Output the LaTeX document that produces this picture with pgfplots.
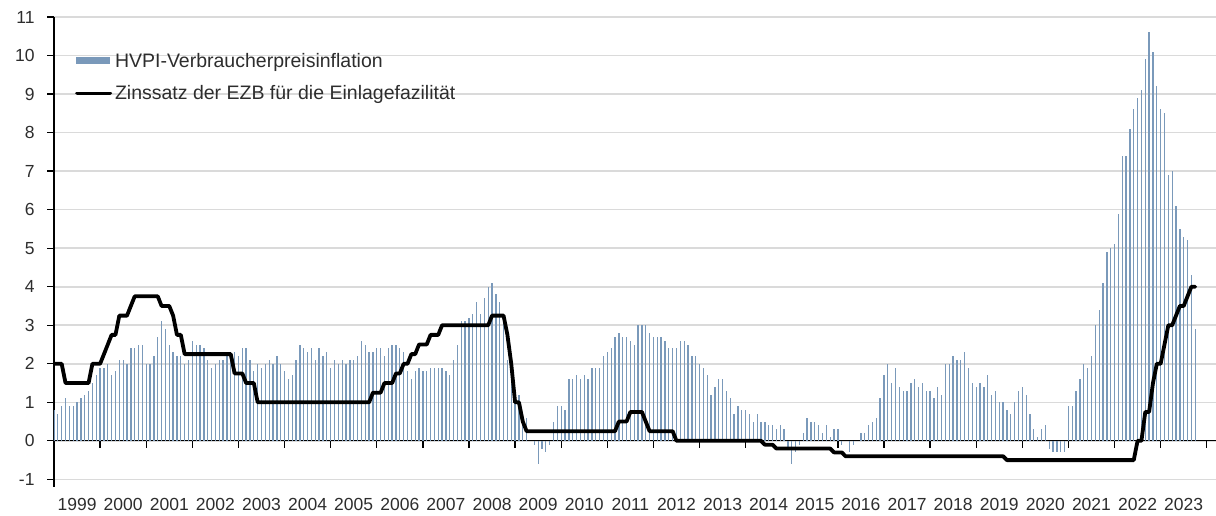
\documentclass[border=0pt]{standalone}
\usepackage{fontspec}
\setmainfont{Liberation Sans}
\usepackage{pgfplots}
\pgfplotsset{compat=1.18}
\usepackage{pgfplotstable}

\definecolor{hvpiblue}{RGB}{122,153,186}
\definecolor{gridgray}{RGB}{218,218,218}
\definecolor{txt}{RGB}{45,45,45}

% HVPI inflation, monthly, in percent
\pgfplotstableread[row sep=\\]{
year month value \\
1999 1 0.8 \\ 1999 2 0.7 \\ 1999 3 0.9 \\ 1999 4 1.1 \\ 1999 5 0.9 \\ 1999 6 0.9 \\ 1999 7 1.0 \\ 1999 8 1.1 \\ 1999 9 1.2 \\ 1999 10 1.3 \\ 1999 11 1.5 \\ 1999 12 1.7 \\
2000 1 1.9 \\ 2000 2 1.9 \\ 2000 3 2.0 \\ 2000 4 1.7 \\ 2000 5 1.8 \\ 2000 6 2.1 \\ 2000 7 2.1 \\ 2000 8 2.0 \\ 2000 9 2.4 \\ 2000 10 2.4 \\ 2000 11 2.5 \\ 2000 12 2.5 \\
2001 1 2.0 \\ 2001 2 2.0 \\ 2001 3 2.2 \\ 2001 4 2.7 \\ 2001 5 3.1 \\ 2001 6 2.9 \\ 2001 7 2.5 \\ 2001 8 2.3 \\ 2001 9 2.2 \\ 2001 10 2.2 \\ 2001 11 2.0 \\ 2001 12 2.1 \\
2002 1 2.6 \\ 2002 2 2.5 \\ 2002 3 2.5 \\ 2002 4 2.4 \\ 2002 5 2.1 \\ 2002 6 1.9 \\ 2002 7 2.0 \\ 2002 8 2.1 \\ 2002 9 2.1 \\ 2002 10 2.3 \\ 2002 11 2.3 \\ 2002 12 2.3 \\
2003 1 2.2 \\ 2003 2 2.4 \\ 2003 3 2.4 \\ 2003 4 2.1 \\ 2003 5 1.8 \\ 2003 6 2.0 \\ 2003 7 1.9 \\ 2003 8 2.0 \\ 2003 9 2.1 \\ 2003 10 2.0 \\ 2003 11 2.2 \\ 2003 12 2.0 \\
2004 1 1.8 \\ 2004 2 1.6 \\ 2004 3 1.7 \\ 2004 4 2.1 \\ 2004 5 2.5 \\ 2004 6 2.4 \\ 2004 7 2.3 \\ 2004 8 2.4 \\ 2004 9 2.1 \\ 2004 10 2.4 \\ 2004 11 2.2 \\ 2004 12 2.3 \\
2005 1 1.9 \\ 2005 2 2.1 \\ 2005 3 2.0 \\ 2005 4 2.1 \\ 2005 5 2.0 \\ 2005 6 2.1 \\ 2005 7 2.1 \\ 2005 8 2.2 \\ 2005 9 2.6 \\ 2005 10 2.5 \\ 2005 11 2.3 \\ 2005 12 2.3 \\
2006 1 2.4 \\ 2006 2 2.4 \\ 2006 3 2.2 \\ 2006 4 2.4 \\ 2006 5 2.5 \\ 2006 6 2.5 \\ 2006 7 2.4 \\ 2006 8 2.3 \\ 2006 9 1.8 \\ 2006 10 1.6 \\ 2006 11 1.8 \\ 2006 12 1.9 \\
2007 1 1.8 \\ 2007 2 1.8 \\ 2007 3 1.9 \\ 2007 4 1.9 \\ 2007 5 1.9 \\ 2007 6 1.9 \\ 2007 7 1.8 \\ 2007 8 1.7 \\ 2007 9 2.1 \\ 2007 10 2.5 \\ 2007 11 3.1 \\ 2007 12 3.1 \\
2008 1 3.2 \\ 2008 2 3.3 \\ 2008 3 3.6 \\ 2008 4 3.3 \\ 2008 5 3.7 \\ 2008 6 4.0 \\ 2008 7 4.1 \\ 2008 8 3.8 \\ 2008 9 3.6 \\ 2008 10 3.2 \\ 2008 11 2.1 \\ 2008 12 1.6 \\
2009 1 1.1 \\ 2009 2 1.2 \\ 2009 3 0.6 \\ 2009 4 0.6 \\ 2009 5 0.0 \\ 2009 6 -0.1 \\ 2009 7 -0.6 \\ 2009 8 -0.2 \\ 2009 9 -0.3 \\ 2009 10 -0.1 \\ 2009 11 0.5 \\ 2009 12 0.9 \\
2010 1 0.9 \\ 2010 2 0.8 \\ 2010 3 1.6 \\ 2010 4 1.6 \\ 2010 5 1.7 \\ 2010 6 1.6 \\ 2010 7 1.7 \\ 2010 8 1.6 \\ 2010 9 1.9 \\ 2010 10 1.9 \\ 2010 11 1.9 \\ 2010 12 2.2 \\
2011 1 2.3 \\ 2011 2 2.4 \\ 2011 3 2.7 \\ 2011 4 2.8 \\ 2011 5 2.7 \\ 2011 6 2.7 \\ 2011 7 2.6 \\ 2011 8 2.5 \\ 2011 9 3.0 \\ 2011 10 3.0 \\ 2011 11 3.0 \\ 2011 12 2.8 \\
2012 1 2.7 \\ 2012 2 2.7 \\ 2012 3 2.7 \\ 2012 4 2.6 \\ 2012 5 2.4 \\ 2012 6 2.4 \\ 2012 7 2.4 \\ 2012 8 2.6 \\ 2012 9 2.6 \\ 2012 10 2.5 \\ 2012 11 2.2 \\ 2012 12 2.2 \\
2013 1 2.0 \\ 2013 2 1.9 \\ 2013 3 1.7 \\ 2013 4 1.2 \\ 2013 5 1.4 \\ 2013 6 1.6 \\ 2013 7 1.6 \\ 2013 8 1.3 \\ 2013 9 1.1 \\ 2013 10 0.7 \\ 2013 11 0.9 \\ 2013 12 0.8 \\
2014 1 0.8 \\ 2014 2 0.7 \\ 2014 3 0.5 \\ 2014 4 0.7 \\ 2014 5 0.5 \\ 2014 6 0.5 \\ 2014 7 0.4 \\ 2014 8 0.4 \\ 2014 9 0.3 \\ 2014 10 0.4 \\ 2014 11 0.3 \\ 2014 12 -0.2 \\
2015 1 -0.6 \\ 2015 2 -0.3 \\ 2015 3 -0.1 \\ 2015 4 0.2 \\ 2015 5 0.6 \\ 2015 6 0.5 \\ 2015 7 0.5 \\ 2015 8 0.4 \\ 2015 9 0.2 \\ 2015 10 0.4 \\ 2015 11 0.1 \\ 2015 12 0.3 \\
2016 1 0.3 \\ 2016 2 -0.1 \\ 2016 3 0.0 \\ 2016 4 -0.3 \\ 2016 5 -0.1 \\ 2016 6 0.0 \\ 2016 7 0.2 \\ 2016 8 0.2 \\ 2016 9 0.4 \\ 2016 10 0.5 \\ 2016 11 0.6 \\ 2016 12 1.1 \\
2017 1 1.7 \\ 2017 2 2.0 \\ 2017 3 1.5 \\ 2017 4 1.9 \\ 2017 5 1.4 \\ 2017 6 1.3 \\ 2017 7 1.3 \\ 2017 8 1.5 \\ 2017 9 1.6 \\ 2017 10 1.4 \\ 2017 11 1.5 \\ 2017 12 1.3 \\
2018 1 1.3 \\ 2018 2 1.1 \\ 2018 3 1.4 \\ 2018 4 1.2 \\ 2018 5 2.0 \\ 2018 6 2.0 \\ 2018 7 2.2 \\ 2018 8 2.1 \\ 2018 9 2.1 \\ 2018 10 2.3 \\ 2018 11 1.9 \\ 2018 12 1.5 \\
2019 1 1.4 \\ 2019 2 1.5 \\ 2019 3 1.4 \\ 2019 4 1.7 \\ 2019 5 1.2 \\ 2019 6 1.3 \\ 2019 7 1.0 \\ 2019 8 1.0 \\ 2019 9 0.8 \\ 2019 10 0.7 \\ 2019 11 1.0 \\ 2019 12 1.3 \\
2020 1 1.4 \\ 2020 2 1.2 \\ 2020 3 0.7 \\ 2020 4 0.3 \\ 2020 5 0.1 \\ 2020 6 0.3 \\ 2020 7 0.4 \\ 2020 8 -0.2 \\ 2020 9 -0.3 \\ 2020 10 -0.3 \\ 2020 11 -0.3 \\ 2020 12 -0.3 \\
2021 1 0.9 \\ 2021 2 0.9 \\ 2021 3 1.3 \\ 2021 4 1.6 \\ 2021 5 2.0 \\ 2021 6 1.9 \\ 2021 7 2.2 \\ 2021 8 3.0 \\ 2021 9 3.4 \\ 2021 10 4.1 \\ 2021 11 4.9 \\ 2021 12 5.0 \\
2022 1 5.1 \\ 2022 2 5.9 \\ 2022 3 7.4 \\ 2022 4 7.4 \\ 2022 5 8.1 \\ 2022 6 8.6 \\ 2022 7 8.9 \\ 2022 8 9.1 \\ 2022 9 9.9 \\ 2022 10 10.6 \\ 2022 11 10.1 \\ 2022 12 9.2 \\
2023 1 8.6 \\ 2023 2 8.5 \\ 2023 3 6.9 \\ 2023 4 7.0 \\ 2023 5 6.1 \\ 2023 6 5.5 \\ 2023 7 5.3 \\ 2023 8 5.2 \\ 2023 9 4.3 \\ 2023 10 2.9 \\
}\hvpidata

% ECB deposit facility rate, monthly (points where it changes)
\pgfplotstableread[row sep=\\]{
year month rate \\
1999 1 2.0 \\ 1999 3 2.0 \\ 1999 4 1.5 \\ 1999 10 1.5 \\ 1999 11 2.0 \\
2000 1 2.0 \\ 2000 2 2.25 \\ 2000 3 2.5 \\ 2000 4 2.75 \\ 2000 5 2.75 \\ 2000 6 3.25 \\ 2000 8 3.25 \\ 2000 9 3.5 \\ 2000 10 3.75 \\
2001 4 3.75 \\ 2001 5 3.5 \\ 2001 7 3.5 \\ 2001 8 3.25 \\ 2001 9 2.75 \\ 2001 10 2.75 \\ 2001 11 2.25 \\
2002 11 2.25 \\ 2002 12 1.75 \\
2003 2 1.75 \\ 2003 3 1.5 \\ 2003 5 1.5 \\ 2003 6 1.0 \\
2005 11 1.0 \\ 2005 12 1.25 \\
2006 2 1.25 \\ 2006 3 1.5 \\ 2006 5 1.5 \\ 2006 6 1.75 \\ 2006 7 1.75 \\ 2006 8 2.0 \\ 2006 9 2.0 \\ 2006 10 2.25 \\ 2006 11 2.25 \\ 2006 12 2.5 \\
2007 2 2.5 \\ 2007 3 2.75 \\ 2007 5 2.75 \\ 2007 6 3.0 \\
2008 6 3.0 \\ 2008 7 3.25 \\ 2008 10 3.25 \\ 2008 11 2.75 \\ 2008 12 2.0 \\
2009 1 1.0 \\ 2009 2 1.0 \\ 2009 3 0.5 \\ 2009 4 0.25 \\
2011 3 0.25 \\ 2011 4 0.5 \\ 2011 6 0.5 \\ 2011 7 0.75 \\ 2011 10 0.75 \\ 2011 11 0.5 \\ 2011 12 0.25 \\
2012 6 0.25 \\ 2012 7 0.0 \\
2014 5 0.0 \\ 2014 6 -0.1 \\ 2014 8 -0.1 \\ 2014 9 -0.2 \\
2015 11 -0.2 \\ 2015 12 -0.3 \\
2016 2 -0.3 \\ 2016 3 -0.4 \\
2019 8 -0.4 \\ 2019 9 -0.5 \\
2022 6 -0.5 \\ 2022 7 0.0 \\ 2022 8 0.0 \\ 2022 9 0.75 \\ 2022 10 0.75 \\ 2022 11 1.5 \\ 2022 12 2.0 \\
2023 1 2.0 \\ 2023 2 2.5 \\ 2023 3 3.0 \\ 2023 4 3.0 \\ 2023 5 3.25 \\ 2023 6 3.5 \\ 2023 7 3.5 \\ 2023 8 3.75 \\ 2023 9 4.0 \\ 2023 10 4.0 \\
}\ezbdata

\begin{document}
\begin{tikzpicture}
\begin{axis}[
    at={(54pt,29.3pt)}, anchor=south west,
    scale only axis,
    width=1162pt, height=469.7pt,
    xmin=1999, xmax=2024.2,
    ymin=-1.19, ymax=11,
    axis y line*=left,
    axis x line*=middle,
    hide obscured y ticks=false,
    axis line style={black, line width=1.3pt},
    ytick={-1,0,...,11},
    ymajorgrids,
    grid style={gridgray, line width=1.6pt},
    tick align=outside,
    major tick length=7pt,
    minor tick length=7pt,
    y tick style={black, line width=1.3pt},
    xtick={1999.5,2000.5,...,2023.5},
    xticklabels={1999,2000,2001,2002,2003,2004,2005,2006,2007,2008,2009,2010,2011,2012,2013,2014,2015,2016,2017,2018,2019,2020,2021,2022,2023},
    major x tick style={draw=none},
    minor xtick={2000,2001,...,2024},
    minor x tick style={black, line width=1.3pt},
    /pgf/number format/assume math mode=true,
    xticklabel style={yshift=-47pt, text=txt, font=\fontsize{17.5}{20}\selectfont},
    yticklabel style={xshift=-9pt, text=txt, font=\fontsize{17.5}{20}\selectfont},
    legend cell align=left,
    legend style={
        at={(axis description cs:0.0181,0.928)}, anchor=north west,
        draw=none, fill=none, inner sep=0pt,
        row sep=13pt,
        text=txt, font=\fontsize{19.5}{22}\selectfont,
        /tikz/every odd column/.append style={column sep=1pt}
    },
]
    \addplot[ycomb, hvpiblue, line width=1.3pt, mark=none,
        legend image code/.code={\fill[hvpiblue] (0pt,-3pt) rectangle (32pt,3pt);}]
        table[x expr={\thisrow{year}+(\thisrow{month}-1)/12}, y=value] {\hvpidata};
    \addplot[black, line width=3.8pt, line join=round, line cap=round, mark=none,
        legend image code/.code={\draw[black, line width=3.8pt, line cap=round] (0pt,0pt) -- (33pt,0pt);}]
        table[x expr={\thisrow{year}+(\thisrow{month}-1)/12}, y=rate] {\ezbdata};
    \legend{HVPI-Verbraucherpreisinflation, Zinssatz der EZB für die Einlagefazilität}
\end{axis}
\pgfresetboundingbox
\path[use as bounding box] (0,0) rectangle (1216pt,516pt);
\end{tikzpicture}
\end{document}
